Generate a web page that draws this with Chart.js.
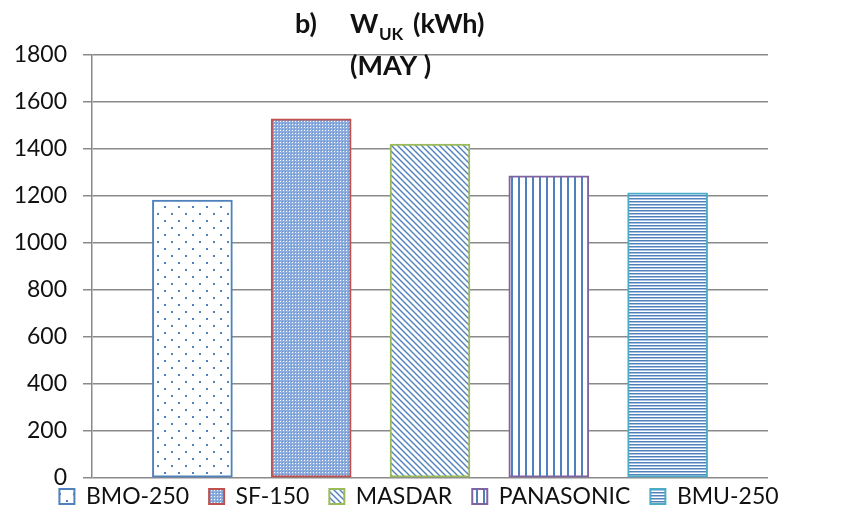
<!DOCTYPE html>
<html lang="en">
<head>
    <meta charset="UTF-8">
    <title>W_UK (kWh) - MAY</title>
    <script src="https://cdn.jsdelivr.net/npm/chart.js"></script>
    <style>
        html, body { margin: 0; padding: 0; background: #ffffff; }
        .wrap { position: relative; width: 848px; height: 508px; }
    </style>
</head>
<body>
    <div class="wrap"><canvas id="grafico"></canvas></div>
    <script>
        // Values
        const categorias = ["BMO-250", "SF-150", "MASDAR", "PANASONIC", "BMU-250"];
        const energiaMayo = [1183, 1528, 1421, 1286, 1213];
        const ticksY = [0, 200, 400, 600, 800, 1000, 1200, 1400, 1600, 1800];

        // Styles
        const bordes = ["#4F81BD", "#C0504D", "#9BBB59", "#8064A2", "#4BACC6"];
        const AZUL = "#4F81BD";
        const TEXTO = "#111111";
        const REJILLA = "#8a8a8a";

        const lienzo = document.getElementById("grafico");
        const ctxPrincipal = lienzo.getContext("2d");

        // Builds a small repeating tile for the hatch fills
        function patron(w, h, dibujar) {
            let c = document.createElement("canvas");
            c.width = w; c.height = h;
            let g = c.getContext("2d");
            g.fillStyle = "#ffffff";
            g.fillRect(0, 0, w, h);
            g.fillStyle = AZUL;
            g.strokeStyle = AZUL;
            dibujar(g);
            return ctxPrincipal.createPattern(c, "repeat");
        }

        const patrones = [
            // sparse dots
            patron(14, 14, g => { g.fillRect(3, 3, 2, 2); g.fillRect(10, 10, 2, 2); }),
            // fine dotted blue
            patron(3, 3, g => {
                g.fillStyle = "#8dadde"; g.fillRect(0, 0, 3, 3);
                g.fillStyle = "#ffffff"; g.fillRect(1, 1, 1, 1);
                g.fillStyle = "#6b93cf"; g.fillRect(0, 0, 1, 1);
            }),
            // wide downward diagonal
            patron(6, 6, g => {
                g.lineWidth = 1.4;
                g.beginPath();
                g.moveTo(-1, -1); g.lineTo(7, 7);
                g.moveTo(5, -1); g.lineTo(7, 1);
                g.moveTo(-1, 5); g.lineTo(1, 7);
                g.stroke();
            }),
            // vertical lines
            patron(7, 4, g => { g.fillRect(0, 0, 2, 4); }),
            // horizontal lines
            patron(4, 3, g => { g.fillRect(0, 0, 4, 1); g.fillStyle = "#a9c0e0"; g.fillRect(0, 1, 4, 1); })
        ];

        // Title drawn on top: "b)    W_UK (kWh)" and "(MAY )"
        const tituloPlugin = {
            id: "titulo",
            afterDraw(chart) {
                let ctx = chart.ctx;
                ctx.save();
                ctx.fillStyle = TEXTO;
                ctx.textBaseline = "alphabetic";
                ctx.textAlign = "left";
                ctx.font = "bold 27px Lato";
                ctx.fillText("b)", 295, 33);
                ctx.fillText("W", 350, 33);
                ctx.font = "bold 17px Lato";
                ctx.fillText("UK", 379, 40);
                ctx.font = "bold 27px Lato";
                ctx.fillText("(kWh)", 413, 33);
                ctx.fillText("(MAY )", 350, 75);
                ctx.restore();
            }
        };

        // Moves the legend row up a bit like the original
        const leyendaPlugin = {
            id: "leyendaPos",
            afterLayout(chart) {
                let lg = chart.legend;
                lg.top -= 13; lg.bottom -= 13;
                lg.left -= 5; lg.right -= 5;
            }
        };

        new Chart(lienzo, {
            type: "bar",
            data: {
                datasets: categorias.map((nombre, i) => ({
                    label: nombre,
                    data: [{ x: i, y: energiaMayo[i] }],
                    backgroundColor: patrones[i],
                    borderColor: bordes[i],
                    borderWidth: 2,
                    borderSkipped: false,
                    barThickness: 80,
                    grouped: false
                }))
            },
            options: {
                responsive: true,
                maintainAspectRatio: false,
                animation: false,
                devicePixelRatio: 1,
                layout: { padding: { top: 55, right: 0, bottom: -23, left: 0 } },
                plugins: {
                    title: { display: false },
                    tooltip: { enabled: false },
                    legend: {
                        display: true,
                        position: "bottom",
                        labels: {
                            color: TEXTO,
                            font: { family: "Lato", size: 23 },
                            boxWidth: 15,
                            boxHeight: 15,
                            padding: 20
                        }
                    }
                },
                scales: {
                    x: {
                        type: "linear",
                        display: false,
                        offset: false,
                        min: -0.845,
                        max: 4.845
                    },
                    y: {
                        min: 0,
                        max: 1800,
                        afterBuildTicks: s => { s.ticks = ticksY.map(v => ({ value: v })); },
                        afterFit: s => { s.width = 92; },
                        border: { display: true, color: REJILLA, width: 1.5 },
                        grid: { color: REJILLA, lineWidth: 1.5, tickLength: 9, drawTicks: true },
                        ticks: {
                            color: TEXTO,
                            font: { family: "Lato", size: 23 },
                            padding: 16,
                            callback: v => String(v)
                        }
                    },
                    // empty right margin so the plot ends where the original does
                    margen: {
                        type: "linear",
                        position: "right",
                        display: true,
                        ticks: { display: false },
                        grid: { display: false },
                        border: { display: false },
                        afterFit: s => { s.width = 80; }
                    }
                }
            },
            plugins: [tituloPlugin, leyendaPlugin]
        });
    </script>
</body>
</html>
